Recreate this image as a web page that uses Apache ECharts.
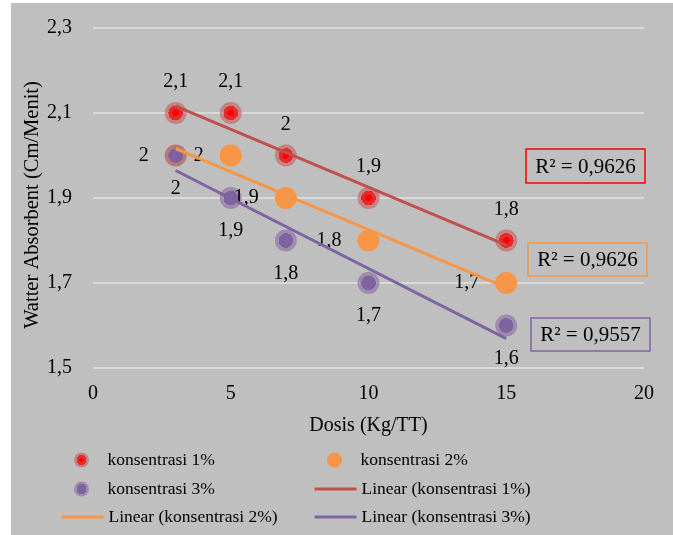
<!DOCTYPE html>
<html><head><meta charset="utf-8">
<script src="https://cdn.jsdelivr.net/npm/echarts@6/dist/echarts.min.js"></script>
<style>html,body{margin:0;padding:0;background:#fff;}
#chart{position:absolute;left:11px;top:3px;width:662px;height:532px;background:#bfbfbf;}</style>
</head><body><div id="chart"></div>
<script>
// ---- data ----
const dosis = [3, 5, 7, 10, 15];
const konsentrasi1 = [2.1, 2.1, 2.0, 1.9, 1.8];
const konsentrasi2 = [2.0, 2.0, 1.9, 1.8, 1.7];
const konsentrasi3 = [2.0, 1.9, 1.8, 1.7, 1.6];
const seriesNames = ['konsentrasi 1%', 'konsentrasi 2%', 'konsentrasi 3%'];
const trendNames = ['Linear (konsentrasi 1%)', 'Linear (konsentrasi 2%)', 'Linear (konsentrasi 3%)'];
const xTicks = [0, 5, 10, 15, 20];
const yTicks = [1.5, 1.7, 1.9, 2.1, 2.3];
const xTitle = 'Dosis (Kg/TT)';
const yTitle = 'Watter Absorbent (Cm/Menit)';

// ---- helpers ----
const FONT = 'Liberation Serif';
function comma(v) { return String(+(+v).toFixed(4)).replace('.', ','); }
function regression(xs, ys) {
  const n = xs.length;
  const mx = xs.reduce((a, b) => a + b, 0) / n;
  const my = ys.reduce((a, b) => a + b, 0) / n;
  let sxy = 0, sxx = 0, syy = 0;
  for (let i = 0; i < n; i++) {
    sxy += (xs[i] - mx) * (ys[i] - my);
    sxx += (xs[i] - mx) ** 2;
    syy += (ys[i] - my) ** 2;
  }
  const b = sxy / sxx, a = my - b * mx;
  const x0 = Math.min(...xs), x1 = Math.max(...xs);
  return { line: [[x0, a + b * x0], [x1, a + b * x1]], r2: (sxy * sxy) / (sxx * syy) };
}
function pts(ys) { return dosis.map((x, i) => [x, ys[i]]); }
function radial(stops) {
  return { type: 'radial', x: 0.5, y: 0.5, r: 0.5, colorStops: stops.map(s => ({ offset: s[0], color: s[1] })) };
}

const allY = [konsentrasi1, konsentrasi2, konsentrasi3];
const fits = allY.map(ys => regression(dosis, ys));
const lineColors = ['#c0504d', '#f79646', '#8064a2'];
const markerColors = [
  radial([[0, '#ff0000'], [0.3, '#ff0000'], [0.3, '#e62a2c'], [0.66, '#e62a2c'], [0.66, 'rgba(205,70,70,0.5)'], [1, 'rgba(205,70,70,0.5)']]),
  '#f79646',
  radial([[0, '#7f63a1'], [0.66, '#7f63a1'], [0.66, 'rgba(128,100,162,0.55)'], [1, 'rgba(128,100,162,0.55)']])
];
const labelPos = ['top', 'left', 'bottom'];
const labelDist = [10, 16, 12];

const series = [];
allY.forEach((ys, i) => {
  series.push({
    name: seriesNames[i], type: 'scatter', data: pts(ys), symbol: 'circle', symbolSize: 22,
    itemStyle: { color: markerColors[i], opacity: 1 }, z: 2,
    label: { show: true, position: labelPos[i], distance: labelDist[i], color: '#000', fontFamily: FONT, fontSize: 20,
      formatter: p => comma(p.value[1]) }
  });
});
fits.forEach((f, i) => {
  series.push({
    name: trendNames[i], type: 'line', data: f.line, showSymbol: false, symbol: 'none', z: 3,
    lineStyle: { color: lineColors[i], width: 3 }, itemStyle: { color: lineColors[i] }
  });
});

const legendOrder = [seriesNames[0], seriesNames[1], seriesNames[2], trendNames[0], trendNames[1], trendNames[2]];
const legendLeft = [49, 302];
const legendTop = [448, 477, 505];
const legends = legendOrder.map((nm, k) => {
  const isLine = nm.indexOf('Linear') === 0;
  const lg = {
    data: [nm], left: legendLeft[k % 2] + (isLine ? 0 : 14), top: legendTop[Math.floor(k / 2)], padding: 0,
    itemWidth: 42, itemHeight: 15, itemGap: 0, selectedMode: false,
    textStyle: { fontFamily: FONT, fontSize: 17.5, color: '#000', lineHeight: 18 }
  };
  if (isLine) {
    lg.itemStyle = { color: 'rgba(0,0,0,0)', borderWidth: 0 };
    lg.lineStyle = { width: 3 };
  } else lg.icon = 'circle';
  return lg;
});

const boxes = [
  { x: 515, y: 146, w: 119, h: 34, c: '#ff0000' },
  { x: 517, y: 240, w: 119, h: 33, c: '#f79646' },
  { x: 520, y: 315, w: 119, h: 33, c: '#8064a2' }
];
const graphics = [];
boxes.forEach((b, i) => {
  graphics.push({ type: 'rect', shape: { x: b.x, y: b.y, width: b.w, height: b.h },
    style: { fill: 'none', stroke: b.c, lineWidth: 1.5 }, z: 10 });
  graphics.push({ type: 'text', x: b.x + b.w / 2, y: b.y + b.h / 2 + 1, z: 10,
    style: { text: 'R² = ' + fits[i].r2.toFixed(4).replace('.', ','), fill: '#000',
      font: '21px "' + FONT + '"', align: 'center', verticalAlign: 'middle' } });
});

const chart = echarts.init(document.getElementById('chart'), null, { renderer: 'canvas' });
chart.setOption({
  animation: false,
  backgroundColor: 'transparent',
  grid: { left: 82, right: 29, top: 25, bottom: 167, containLabel: false, outerBoundsMode: 'none' },
  xAxis: {
    type: 'value', min: xTicks[0], max: xTicks[xTicks.length - 1], interval: xTicks[1] - xTicks[0],
    name: xTitle, nameLocation: 'middle', nameGap: 48,
    nameTextStyle: { fontFamily: FONT, fontSize: 20, color: '#000' },
    axisLine: { show: false }, axisTick: { show: false }, splitLine: { show: false },
    axisLabel: { fontFamily: FONT, fontSize: 20, color: '#000', margin: 16 }
  },
  yAxis: {
    type: 'value', min: yTicks[0], max: yTicks[yTicks.length - 1], interval: +(yTicks[1] - yTicks[0]).toFixed(4),
    name: yTitle, nameLocation: 'middle', nameGap: 50, nameRotate: 90, nameMoveOverlap: false,
    nameTextStyle: { fontFamily: FONT, fontSize: 20.5, color: '#000', padding: [0, 14, 0, 0] },
    axisLine: { show: false }, axisTick: { show: false },
    splitLine: { show: true, lineStyle: { color: '#d9d9d9', width: 2 } },
    axisLabel: { fontFamily: FONT, fontSize: 20, color: '#000', margin: 21, formatter: v => (+v).toFixed(1).replace('.', ',') }
  },
  legend: legends,
  series: series,
  graphic: graphics
});
</script></body></html>
